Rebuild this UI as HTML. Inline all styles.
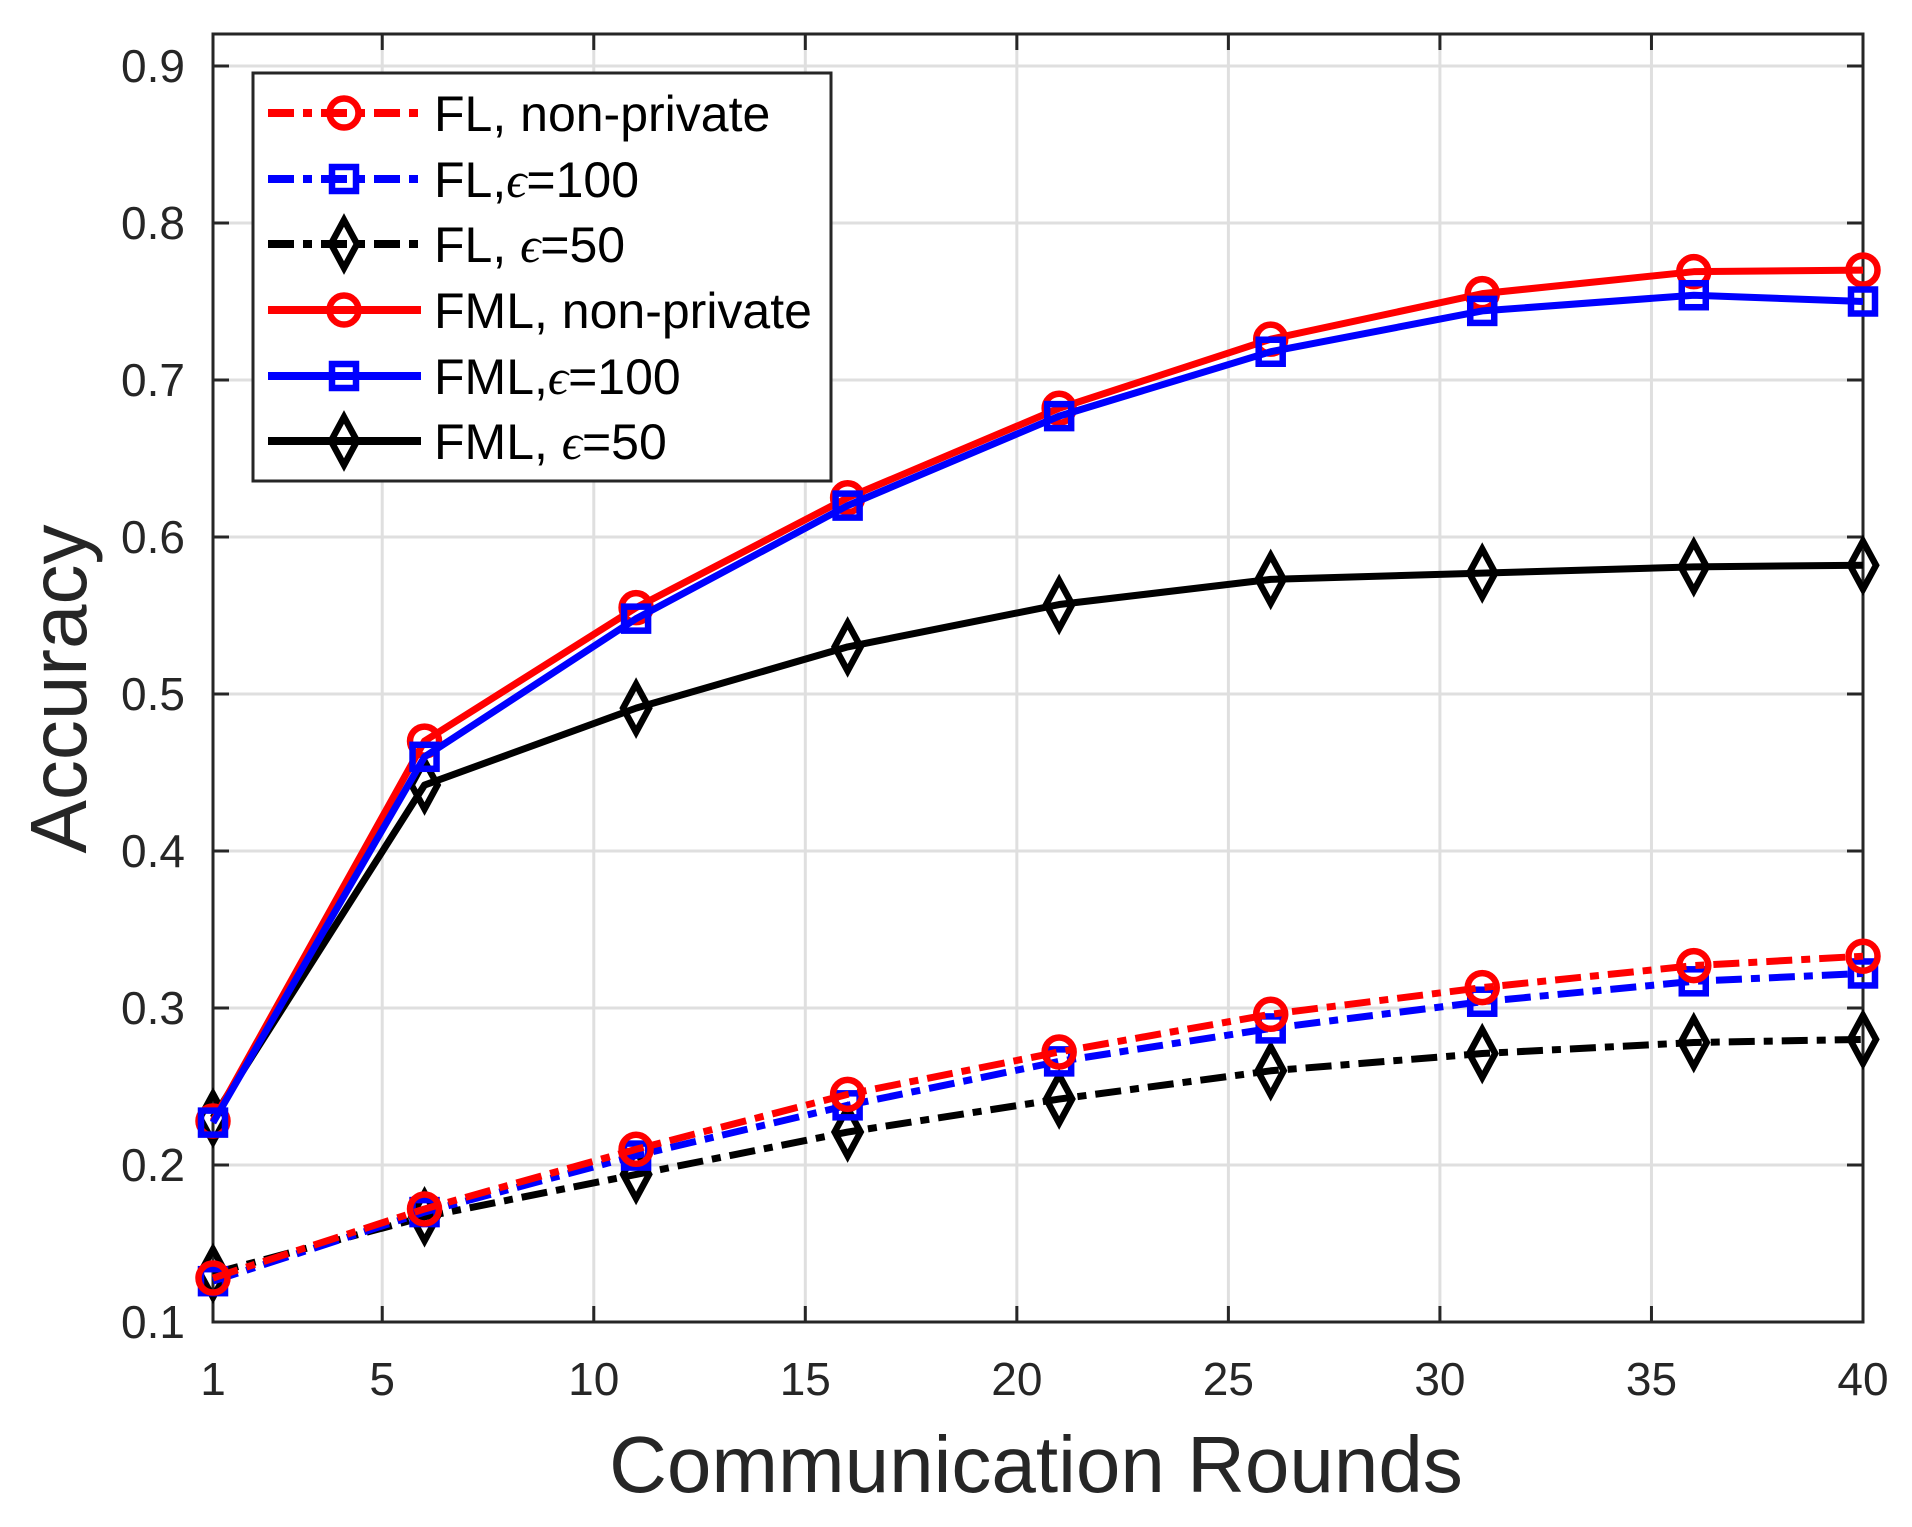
<!DOCTYPE html>
<html><head><meta charset="utf-8"><style>
html,body{margin:0;padding:0;background:#fff;}
svg{display:block;font-family:"Liberation Sans",sans-serif;}
</style></head><body>
<svg id="s" width="1912" height="1527" viewBox="0 0 1912 1527" xmlns="http://www.w3.org/2000/svg">
<rect width="1912" height="1527" fill="#fff"/>
<g id="grid" stroke="#dfdfdf" stroke-width="3"></g>
<g id="ticks" stroke="#262626" stroke-width="3"></g>
<rect x="213" y="34" width="1650" height="1288" fill="none" stroke="#262626" stroke-width="3"/>
<g id="lbl" fill="#262626" font-size="46"></g>
<g id="series"></g>
<text x="1036" y="1492" font-size="80" fill="#262626" text-anchor="middle">Communication Rounds</text>
<text transform="translate(86,689) rotate(-90)" font-size="80" fill="#262626" text-anchor="middle">Accuracy</text>
<g id="legend">
<rect x="253" y="73" width="578" height="408" fill="#fff" stroke="#262626" stroke-width="3"/>
<g font-size="50" fill="#000">
<text x="434" y="131">FL, non-private</text>
<text x="434" y="197">FL,<tspan font-family="Liberation Serif" font-style="italic">ϵ</tspan>=100</text>
<text x="434" y="262">FL, <tspan font-family="Liberation Serif" font-style="italic">ϵ</tspan>=50</text>
<text x="434" y="328">FML, non-private</text>
<text x="434" y="394">FML,<tspan font-family="Liberation Serif" font-style="italic">ϵ</tspan>=100</text>
<text x="434" y="459">FML, <tspan font-family="Liberation Serif" font-style="italic">ϵ</tspan>=50</text>
</g>
</g>
</svg>
<script>
var NS="http://www.w3.org/2000/svg";
function el(t,a,p){var e=document.createElementNS(NS,t);for(var k in a)e.setAttribute(k,a[k]);p.appendChild(e);return e;}
function X(r){return 213+(r-1)*1650/39;}
function Y(v){return 1322-(v-0.1)*1570;}
var g=document.getElementById('grid'),tk=document.getElementById('ticks'),lb=document.getElementById('lbl');
var xt=[1,5,10,15,20,25,30,35,40];
xt.forEach(function(r){var x=X(r);
 if(r>1&&r<40)el('line',{x1:x,y1:34,x2:x,y2:1322},g);
 el('line',{x1:x,y1:1322,x2:x,y2:1306},tk);el('line',{x1:x,y1:34,x2:x,y2:50},tk);
 var t=el('text',{x:x,y:1395,'text-anchor':'middle'},lb);t.textContent=r;});
for(var i=1;i<=9;i++){var v=i/10,y=Y(v);
 if(i>1)el('line',{x1:213,y1:y,x2:1863,y2:y},g);
 el('line',{x1:213,y1:y,x2:229,y2:y},tk);el('line',{x1:1863,y1:y,x2:1847,y2:y},tk);
 var t=el('text',{x:185,y:y+16,'text-anchor':'end'},lb);t.textContent=v.toFixed(1);}
var R=[1,6,11,16,21,26,31,36,40];
var S=[
 {c:'#000',m:'d',d:true,v:[0.131,0.167,0.194,0.221,0.242,0.26,0.271,0.278,0.28]},
 {c:'#0000ff',m:'s',d:true,v:[0.126,0.17,0.206,0.238,0.266,0.287,0.304,0.317,0.322]},
 {c:'#ff0000',m:'o',d:true,v:[0.128,0.172,0.21,0.245,0.272,0.296,0.313,0.327,0.333]},
 {c:'#000',m:'d',d:false,v:[0.23,0.442,0.491,0.53,0.557,0.573,0.577,0.581,0.582]},
 {c:'#ff0000',m:'o',d:false,v:[0.228,0.47,0.555,0.625,0.682,0.726,0.755,0.769,0.77]},
 {c:'#0000ff',m:'s',d:false,v:[0.227,0.46,0.548,0.62,0.677,0.718,0.744,0.754,0.75]}
];
var sg=document.getElementById('series');
function mark(m,x,y,c,p){
 if(m=='o')el('circle',{cx:x,cy:y,r:14.5,fill:'none',stroke:c,'stroke-width':6.5},p);
 else if(m=='s')el('rect',{x:x-12,y:y-12,width:24,height:24,fill:'none',stroke:c,'stroke-width':6.5},p);
 else el('polygon',{points:(x)+','+(y-24)+' '+(x+13)+','+y+' '+x+','+(y+24)+' '+(x-13)+','+y,fill:'none',stroke:c,'stroke-width':6.5},p);}
S.forEach(function(s){
 var pts=R.map(function(r,i){return X(r)+','+Y(s.v[i]);}).join(' ');
 var a={points:pts,fill:'none',stroke:s.c,'stroke-width':7,'stroke-linejoin':'round'};
 if(s.d)a['stroke-dasharray']='26 9 9 9';
 el('polyline',a,sg);
 R.forEach(function(r,i){mark(s.m,X(r),Y(s.v[i]),s.c,sg);});});
var lg=document.getElementById('legend');
var L=[{c:'#ff0000',m:'o',d:1},{c:'#0000ff',m:'s',d:1},{c:'#000',m:'d',d:1},{c:'#ff0000',m:'o',d:0},{c:'#0000ff',m:'s',d:0},{c:'#000',m:'d',d:0}];
var ly=[113,179,244,310,376,441];
L.forEach(function(s,i){var a={x1:268,y1:ly[i],x2:421,y2:ly[i],stroke:s.c,'stroke-width':8};
 if(s.d)a['stroke-dasharray']='26 9 9 9';el('line',a,lg);mark(s.m,344,ly[i],s.c,lg);});
</script>
</body></html>
